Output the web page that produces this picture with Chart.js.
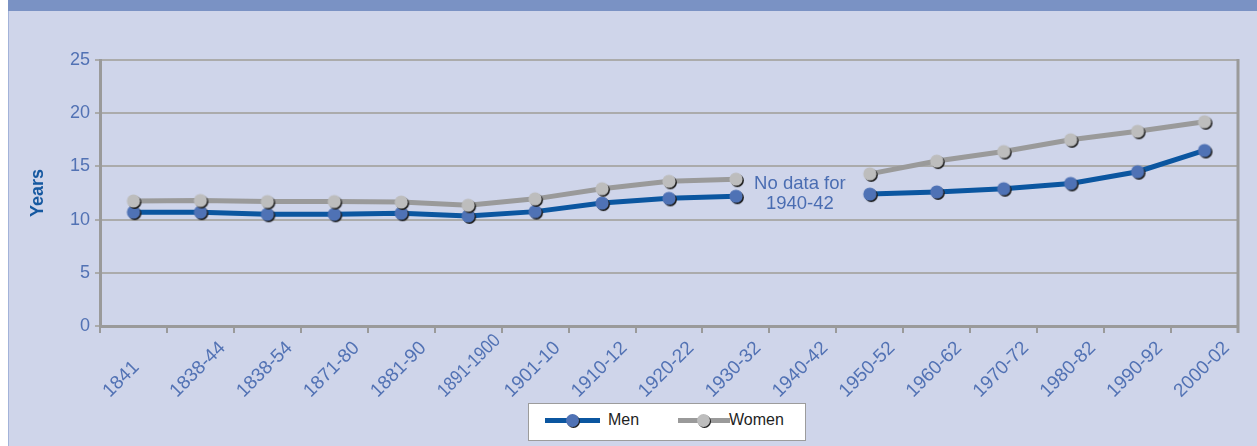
<!DOCTYPE html>
<html>
<head>
<meta charset="utf-8">
<script src="https://cdn.jsdelivr.net/npm/chart.js@4/dist/chart.umd.min.js"></script>
<style>
html,body{margin:0;padding:0;background:#fff;}
#wrap{position:relative;width:1257px;height:446px;overflow:hidden;font-family:"Liberation Sans",Arial,sans-serif;}
#panel{position:absolute;left:8px;top:0;width:1249px;height:446px;background:#cfd5ea;border-left:1px solid #a3b3d9;box-sizing:border-box;}
#banner{position:absolute;left:8px;top:0;width:1249px;height:11px;background:#7a92c4;}
#chart{position:absolute;left:0;top:0;}
#legend{position:absolute;left:528px;top:403px;width:278px;height:38px;background:#fff;border:1px solid #9c9c9c;box-sizing:border-box;}
#legend .ln{position:absolute;height:5px;top:14px;}
#legend .dot{position:absolute;width:13px;height:13px;border-radius:50%;top:10px;box-shadow:1px 1px 0 #1e1e1e;}
#legend .tx{position:absolute;top:7px;font-size:16px;color:#1e1e1e;}
</style>
</head>
<body>
<div id="wrap">
  <div id="panel"></div>
  <div id="banner"></div>
  <canvas id="chart" width="1257" height="446"></canvas>
  <div id="legend">
    <div class="ln" style="left:16px;width:55px;background:#0b56a0"></div>
    <div class="dot" style="left:37px;background:#4f72b5"></div>
    <div class="tx" style="left:79px">Men</div>
    <div class="ln" style="left:149px;width:52px;background:#9a9a9a"></div>
    <div class="dot" style="left:168px;background:#bdbdbd"></div>
    <div class="tx" style="left:200px">Women</div>
  </div>
</div>
<script>
'use strict';

const categories = ['1841','1838-44','1838-54','1871-80','1881-90','1891-1900','1901-10','1910-12','1920-22','1930-32','1940-42','1950-52','1960-62','1970-72','1980-82','1990-92','2000-02'];
const men   = [10.7, 10.7, 10.5, 10.5, 10.6, 10.35, 10.75, 11.55, 12.0, 12.2, null, 12.4, 12.6, 12.9, 13.4, 14.5, 16.5];
const women = [11.75, 11.8, 11.7, 11.7, 11.65, 11.35, 11.95, 12.9, 13.6, 13.8, null, 14.3, 15.5, 16.4, 17.5, 18.3, 19.2];
const yTicks = [0, 5, 10, 15, 20, 25];
const noDataLines = ['No data for', '1940-42'];
const noDataIndex = 10;

const FONT = '"Liberation Sans", Arial, sans-serif';

// round marker with a small dark shadow bottom right
function dot(fill){
  const c = document.createElement('canvas');
  c.width = 22; c.height = 22;
  const g = c.getContext('2d');
  g.fillStyle = '#1e1e1e';
  g.beginPath(); g.arc(12.3, 12.3, 6.6, 0, Math.PI*2); g.fill();
  g.fillStyle = fill;
  g.beginPath(); g.arc(11, 11, 6.6, 0, Math.PI*2); g.fill();
  return c;
}

const extras = {
  id: 'extras',
  afterDraw(chart){
    const {ctx, chartArea: a, scales: {x, y}} = chart;
    ctx.save();
    // right frame line
    ctx.strokeStyle = '#9a9a9a';
    ctx.lineWidth = 3;
    ctx.beginPath();
    ctx.moveTo(a.right, a.top - 1);
    ctx.lineTo(a.right, a.bottom + 7);
    ctx.stroke();

    // category labels, rotated, left anchored, long ones squeezed a bit
    ctx.font = '19px ' + FONT;
    ctx.fillStyle = '#5272b4';
    ctx.textAlign = 'left';
    ctx.textBaseline = 'alphabetic';
    categories.forEach((c, i) => {
      ctx.save();
      ctx.translate(x.getPixelForValue(i) - 23.5, a.bottom + 72);
      ctx.rotate(-Math.PI / 4);
      ctx.fillText(c, 0, 0, 80);
      ctx.restore();
    });

    // gap note
    ctx.font = '18.5px ' + FONT;
    ctx.fillStyle = '#4a6db2';
    ctx.textAlign = 'center';
    ctx.textBaseline = 'middle';
    const cx = x.getPixelForValue(noDataIndex) - 3;
    ctx.fillText(noDataLines[0], cx, y.getPixelForValue(13.4));
    ctx.fillText(noDataLines[1], cx, y.getPixelForValue(11.45));
    ctx.restore();
  }
};

new Chart(document.getElementById('chart'), {
  type: 'line',
  data: {
    labels: categories,
    datasets: [
      {label: 'Women', data: women, borderColor: '#9a9a9a', borderWidth: 5, pointStyle: dot('#bdbdbd'), spanGaps: false},
      {label: 'Men', data: men, borderColor: '#0b56a0', borderWidth: 5, pointStyle: dot('#4f72b5'), spanGaps: false}
    ]
  },
  options: {
    responsive: false,
    animation: false,
    events: [],
    layout: {padding: {top: 60, right: 19, left: 0, bottom: 0}},
    plugins: {legend: {display: false}, tooltip: {enabled: false}},
    scales: {
      x: {
        offset: true,
        grid: {offset: true, drawOnChartArea: false, drawTicks: true, tickLength: 7, color: '#9a9a9a', lineWidth: 2},
        border: {color: '#9a9a9a', width: 3},
        ticks: {color: 'rgba(0,0,0,0)', font: {size: 17, family: FONT}, maxRotation: 45, minRotation: 45, autoSkip: false},
        afterFit(s){ s.height = 120; }
      },
      y: {
        min: 0, max: 25,
        afterBuildTicks(s){ s.ticks = yTicks.map(v => ({value: v})); },
        ticks: {color: '#5272b4', font: {size: 18, family: FONT}, padding: 5},
        grid: {color: '#ababab', lineWidth: 2, tickLength: 5},
        border: {color: '#9a9a9a', width: 3},
        title: {display: true, text: 'Years', color: '#1558a0', font: {size: 18, weight: 'bold', family: FONT}, padding: {top: 27, bottom: 0}},
        afterFit(s){ s.width = 100; }
      }
    }
  },
  plugins: [extras]
});
</script>
</body>
</html>
